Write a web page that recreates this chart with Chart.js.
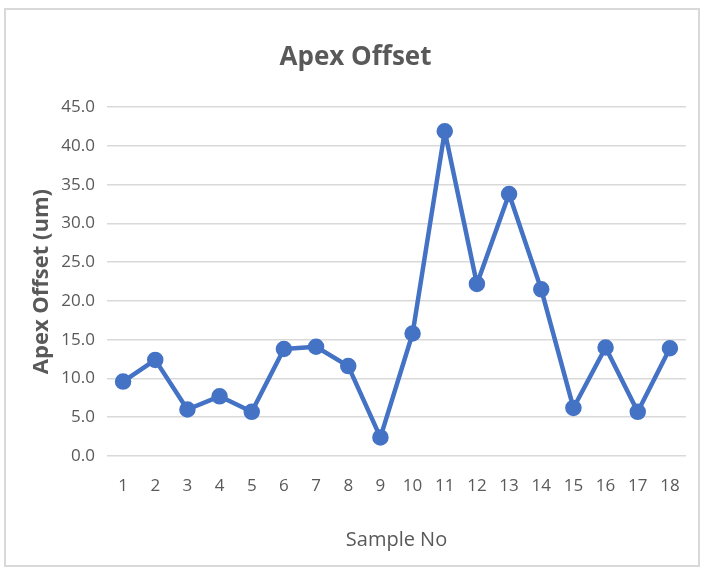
<!DOCTYPE html>
<html>
<head>
<meta charset="utf-8">
<script src="https://cdn.jsdelivr.net/npm/chart.js@4"></script>
<style>
  html, body { margin: 0; padding: 0; background: #fff; }
  #wrap { width: 702px; height: 569px; }
</style>
</head>
<body>
<div id="wrap"><canvas id="apex"></canvas></div>
<script>
const sampleNo = ['1','2','3','4','5','6','7','8','9','10','11','12','13','14','15','16','17','18'];
const apexOffset = [9.6, 12.4, 6.0, 7.7, 5.7, 13.8, 14.1, 11.6, 2.4, 15.8, 41.9, 22.2, 33.8, 21.5, 6.2, 14.0, 5.7, 13.9];
const yTicks = [0, 5, 10, 15, 20, 25, 30, 35, 40, 45];

const FONT = "'Open Sans', sans-serif";
const GREY = '#595959';

// light frame round the whole chart
const framePlugin = {
    id: 'frame',
    beforeDraw(chart) {
        const ctx = chart.ctx;
        ctx.save();
        ctx.strokeStyle = '#d9d9d9';
        ctx.lineWidth = 2;
        ctx.strokeRect(5, 9, 694, 557);
        ctx.restore();
    }
};

new Chart(document.getElementById('apex').getContext('2d'), {
    type: 'line',
    data: {
        labels: sampleNo,
        datasets: [{
            data: apexOffset,
            borderColor: '#4472C4',
            backgroundColor: '#4472C4',
            borderWidth: 4.5,
            borderJoinStyle: 'round',
            borderCapStyle: 'round',
            pointRadius: 6,
            pointHoverRadius: 6,
            tension: 0,
            fill: false
        }]
    },
    options: {
        responsive: true,
        maintainAspectRatio: false,
        animation: false,
        layout: { padding: { left: 25, right: 16, top: 42, bottom: 13 } },
        plugins: {
            legend: { display: false },
            tooltip: { enabled: false },
            title: {
                display: true,
                text: 'Apex Offset',
                color: GREY,
                font: { family: FONT, size: 26, weight: 'bold' },
                padding: { top: 0, bottom: 34 }
            }
        },
        scales: {
            x: {
                offset: true,
                grid: { display: false, drawTicks: false },
                border: { display: false },
                ticks: { color: GREY, font: { family: FONT, size: 17 }, padding: 20 },
                title: {
                    display: true,
                    text: 'Sample No',
                    color: GREY,
                    font: { family: FONT, size: 20 },
                    padding: { top: 0, bottom: 4 }
                },
                afterFit(scale) { scale.height = 100; }
            },
            y: {
                min: 0,
                max: 45,
                afterBuildTicks(scale) { scale.ticks = yTicks.map(v => ({ value: v })); },
                grid: { color: '#d9d9d9', lineWidth: 1.5, drawTicks: false },
                border: { display: false },
                ticks: {
                    color: GREY,
                    font: { family: FONT, size: 17 },
                    padding: 12,
                    callback: v => Number(v).toFixed(1)
                },
                title: {
                    display: true,
                    text: 'Apex Offset (um)',
                    color: GREY,
                    font: { family: FONT, size: 22, weight: 'bold' },
                    padding: { top: 4, bottom: 0 }
                },
                afterFit(scale) { scale.width = 82; }
            }
        }
    },
    plugins: [framePlugin]
});
</script>
</body>
</html>
